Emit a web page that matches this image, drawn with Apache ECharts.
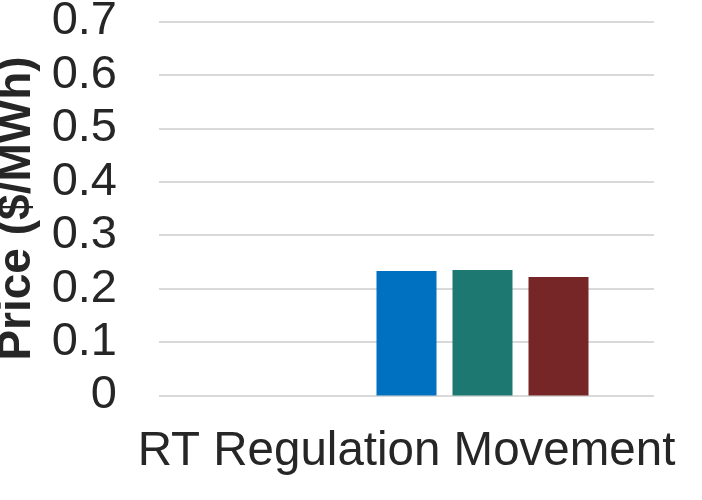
<!DOCTYPE html>
<html>
<head>
<meta charset="utf-8">
<script src="https://cdn.jsdelivr.net/npm/echarts@6/dist/echarts.min.js"></script>
<style>
  html, body { margin: 0; padding: 0; background: #ffffff; }
  #chart { width: 702px; height: 500px; }
</style>
</head>
<body>
<div id="chart"></div>
<script>
// Category on the x axis
const categories = ['RT Regulation Movement'];

// Five price series per category; the first two have no value here
const seriesNames = ['Series 1', 'Series 2', 'Series 3', 'Series 4', 'Series 5'];
const seriesValues = [
  [null],
  [null],
  [0.233],
  [0.235],
  [0.222]
];
const seriesColors = ['#4472C4', '#ED7D31', '#0070C0', '#1E7872', '#772628'];

// Y axis ticks
const yTicks = [0, 0.1, 0.2, 0.3, 0.4, 0.5, 0.6, 0.7];
const yTickLabels = ['0', '0.1', '0.2', '0.3', '0.4', '0.5', '0.6', '0.7'];

const fontFamily = '"Liberation Sans", Arial, Helvetica, sans-serif';
const textColor = '#262626';

const chart = echarts.init(document.getElementById('chart'), null, { renderer: 'canvas' });

chart.setOption({
  animation: false,
  backgroundColor: '#ffffff',
  grid: { left: 159, right: 48, top: 21.5, bottom: 104.5, containLabel: false, outerBoundsMode: 'none' },
  xAxis: {
    type: 'category',
    data: categories,
    axisLine: { show: false },
    axisTick: { show: false },
    axisLabel: {
      color: textColor,
      fontFamily: fontFamily,
      fontSize: 47.5,
      margin: 32
    }
  },
  yAxis: {
    type: 'value',
    min: yTicks[0],
    max: yTicks[yTicks.length - 1],
    interval: 0.1,
    name: 'Price ($/MWh)',
    nameLocation: 'middle',
    nameGap: 118,
    nameTextStyle: {
      color: textColor,
      fontFamily: fontFamily,
      fontSize: 46,
      fontWeight: 'bold'
    },
    axisLine: { show: false },
    axisTick: { show: false },
    splitLine: { lineStyle: { color: '#d9d9d9', width: 2 } },
    axisLabel: {
      color: textColor,
      fontFamily: fontFamily,
      fontSize: 47,
      margin: 42,
      formatter: function (v) {
        const i = yTicks.findIndex(t => Math.abs(t - v) < 1e-9);
        return i >= 0 ? yTickLabels[i] : '';
      }
    }
  },
  series: seriesNames.map((name, i) => ({
    name: name,
    type: 'bar',
    data: seriesValues[i],
    barWidth: 60,
    barGap: '26.67%',
    itemStyle: { color: seriesColors[i] }
  }))
});
</script>
</body>
</html>
